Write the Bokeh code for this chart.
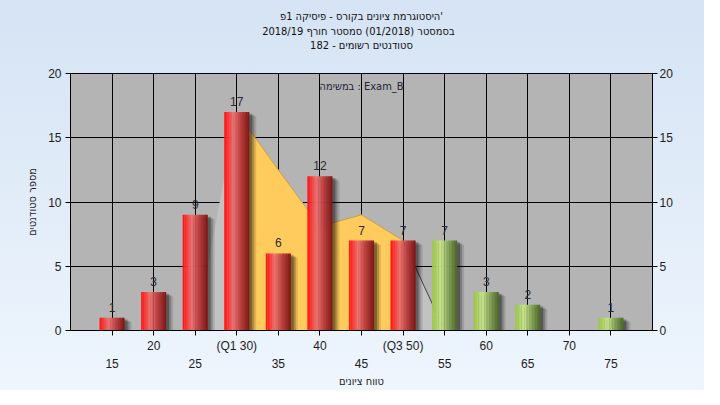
import numpy as np
from bokeh.plotting import figure
from bokeh.models import LinearAxis, FixedTicker, Title, Label, Range1d
from bokeh.core.properties import value
from bokeh.embed import file_html
from bokeh.resources import INLINE

FONT = "Liberation Sans"
HEB = "DejaVu Sans Condensed, DejaVu Sans"

# ---- texts ----
title_line1 = "היסטוגרמת ציונים בקורס - פיסיקה 1פ'"
title_line2 = "בסמסטר  (01/2018)  סמסטר חורף 2018/19"
title_line3 = "סטודנטים רשומים - 182"
task_label = "במשימה : Exam_B"
x_title = "טווח ציונים"
y_title = "מספר סטודנטים"

# ---- data ----
bins = [15, 20, 25, 30, 35, 40, 45, 50, 55, 60, 65, 70, 75]
counts = [1, 3, 9, 17, 6, 12, 7, 7, 7, 3, 2, 0, 1]
q1, q3 = 30, 50
pass_mark = 55
upper_ticks = [15, 20, 25, 30, 35, 40, 45, 50, 55, 60, 65, 70, 75]
upper_labels = ["", "20", "", "(Q1 30)", "", "40", "", "(Q3 50)", "", "60", "", "70", ""]
lower_ticks = [15, 25, 35, 45, 55, 65, 75]
lower_labels = ["15", "25", "35", "45", "55", "65", "75"]
y_ticks = [0, 5, 10, 15, 20]
area_x = [25, 30, 35, 40, 45, 50, 55]
area_y = [0, 17, 12.5, 8.1, 9, 7, 0]

x_lo, x_hi = 10, 80
y_lo, y_hi = 0, 20
bar_w = 3.0
FRAME_W, FRAME_H = 582, 257

red_stops = [(0.0, "#ff1212"), (0.12, "#ff2a2a"), (0.36, "#ef7474"), (0.65, "#c04040"), (1.0, "#7c1414")]
green_stops = [(0.0, "#9cc44c"), (0.12, "#a8ce5a"), (0.36, "#c9e48e"), (0.65, "#88a85a"), (1.0, "#4c6626")]


def hex2rgb(h):
    h = h.lstrip("#")
    return np.array([int(h[i:i + 2], 16) for i in (0, 2, 4)], dtype=float)


def grad(stops, t):
    for (t0, c0), (t1, c1) in zip(stops[:-1], stops[1:]):
        if t0 <= t <= t1:
            f = (t - t0) / (t1 - t0)
            c = hex2rgb(c0) * (1 - f) + hex2rgb(c1) * f
            return "#%02x%02x%02x" % tuple(int(round(v)) for v in c)
    return stops[-1][1]


p = figure(frame_width=FRAME_W, frame_height=FRAME_H,
           x_range=Range1d(x_lo, x_hi), y_range=Range1d(y_lo, y_hi),
           output_backend="svg", toolbar_location=None, title_location=None,
           min_border_left=70, min_border_right=52, min_border_top=65, min_border_bottom=60)
p.border_fill_alpha = 0
p.styles = {"background": "linear-gradient(to bottom, #d5e3f4, #eef5fd)"}
p.background_fill_color = "#b4b4b4"
p.outline_line_color = "black"
p.outline_line_width = 1

# grids
p.xgrid.ticker = FixedTicker(ticks=upper_ticks)
p.ygrid.ticker = FixedTicker(ticks=y_ticks)
for g in (p.xgrid[0], p.ygrid[0]):
    g.grid_line_color = "black"
    g.grid_line_alpha = 1.0
    g.grid_line_width = 1


def style_axis(ax):
    ax.major_label_text_font = FONT
    ax.major_label_text_font_size = "12px"
    ax.major_label_text_color = "#1c1c1c"
    ax.axis_label_text_font = HEB
    ax.axis_label_text_font_size = "11px"
    ax.axis_label_text_font_style = "normal"
    ax.axis_label_text_color = "#1c1c1c"
    ax.minor_tick_line_color = None
    ax.major_tick_in = 0
    ax.major_tick_out = 5
    ax.axis_line_color = "black"
    ax.major_tick_line_color = "black"


# bottom axis 1 (upper row of labels)
xa = p.xaxis[0]
style_axis(xa)
xa.ticker = FixedTicker(ticks=upper_ticks)
xa.major_label_overrides = {t: l for t, l in zip(upper_ticks, upper_labels)}
xa.major_label_standoff = 3

# bottom axis 2 (lower row + title)
xb = LinearAxis()
style_axis(xb)
xb.ticker = FixedTicker(ticks=lower_ticks)
xb.major_label_overrides = {t: l for t, l in zip(lower_ticks, lower_labels)}
xb.axis_line_color = None
xb.major_tick_line_color = None
xb.major_tick_out = 0
xb.major_label_standoff = 3
xb.axis_label = x_title
xb.axis_label_standoff = 4
p.add_layout(xb, "below")

# left axis
ya = p.yaxis[0]
style_axis(ya)
ya.ticker = FixedTicker(ticks=y_ticks)
ya.major_label_standoff = 4
ya.axis_label = y_title
ya.axis_label_standoff = 6

# right axis
yb = LinearAxis()
style_axis(yb)
yb.ticker = FixedTicker(ticks=y_ticks)
yb.major_label_standoff = 2
p.add_layout(yb, "right")

# areas behind bars
p.varea(x=area_x, y1=0, y2=area_y, fill_color="#c2c2c2")
yel_x = [x for x in area_x if q1 <= x <= q3]
yel_y = [y for x, y in zip(area_x, area_y) if q1 <= x <= q3]
p.varea(x=yel_x, y1=0, y2=yel_y, fill_color="#ffcb5c")
p.line(x=yel_x, y=yel_y, line_color="#c9a040", line_width=1)
tail_x = [x for x in area_x if x >= q3]
tail_y = [y for x, y in zip(area_x, area_y) if x >= q3]
p.line(x=tail_x, y=tail_y, line_color="#444444", line_width=1)

# shadows
px_x = (x_hi - x_lo) / FRAME_W
px_y = (y_hi - y_lo) / FRAME_H
sb = [b for b, c in zip(bins, counts) if c > 0]
sc = [c for c in counts if c > 0]
for off, alpha in ((7, 0.12), (5, 0.2), (3, 0.3)):
    p.vbar(x=[b + off * px_x for b in sb], top=[c - off * 0.6 * px_y for c in sc], bottom=0,
           width=bar_w, fill_color="black", fill_alpha=alpha, line_color=None)

# gradient bars (vertical strips)
N = 16
sx, st, scol = [], [], []
for b, c in zip(bins, counts):
    if c <= 0:
        continue
    stops = red_stops if b < pass_mark else green_stops
    for i in range(N):
        t = (i + 0.5) / N
        sx.append(b - bar_w / 2 + t * bar_w)
        st.append(c)
        scol.append(grad(stops, t))
p.vbar(x=sx, top=st, bottom=0, width=bar_w / N * 1.12, fill_color=scol, line_color=None)

# value labels
lx = [b for b, c in zip(bins, counts) if c > 0]
ly = [c for c in counts if c > 0]
lt = [str(c) for c in counts if c > 0]
p.text(x=lx, y=ly, text=lt, text_align="center", text_baseline="bottom", y_offset=-6,
       text_font=value(FONT), text_font_size="12px", text_color="#2a2a36")

# task annotation
p.add_layout(Label(x=(x_lo + x_hi) / 2, y=y_hi - 1.0, text=task_label, text_align="center",
                   text_baseline="middle", text_font=HEB, text_font_size="11px",
                   text_color="#22223a"))

# titles: spacer nearest the frame, the three lines (nearest first), spacer at the top
p.add_layout(Title(text=" ", text_font=HEB, text_font_size="11px", standoff=7), "above")
for txt, so in ((title_line3, -1), (title_line2, -1), (title_line1, 1)):
    p.add_layout(Title(text=txt, align="center", text_font=HEB, text_font_size="11px",
                       text_font_style="normal", text_color="#111111", standoff=so, offset=-6),
                 "above")
p.add_layout(Title(text=" ", text_font=HEB, text_font_size="11px", standoff=-8), "above")

open("out.html", "w").write(file_html(p, INLINE))
